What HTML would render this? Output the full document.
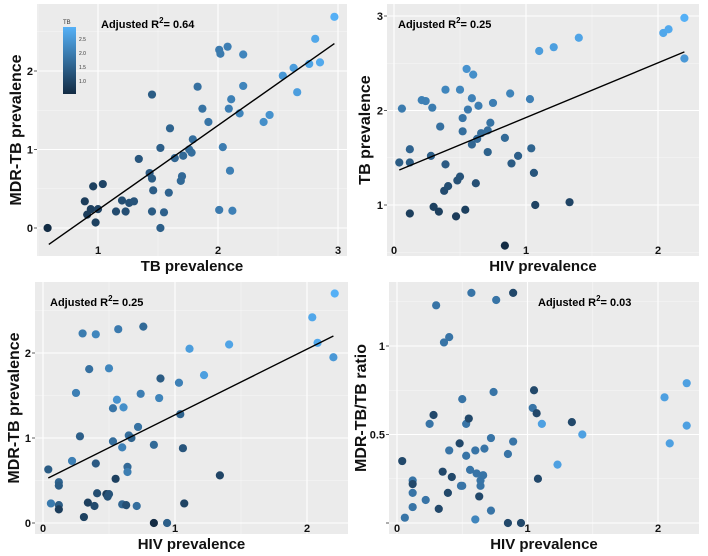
<!DOCTYPE html>
<html><head><meta charset="utf-8">
<style>
html,body{margin:0;padding:0;background:#fff;}
svg{display:block;font-family:"Liberation Sans",Arial,sans-serif;}
</style></head>
<body>
<svg id="chart" width="708" height="556" viewBox="0 0 708 556" xmlns="http://www.w3.org/2000/svg"></svg>
<script>
// Panel A: TB prevalence vs MDR-TB prevalence (colour = TB)
const aTB  = [0.58,0.89,0.96,0.94,0.91,0.98,1.0,1.04,1.15,1.2,1.23,1.26,1.3,1.34,1.43,1.45,1.45,1.45,1.46,1.52,1.52,1.55,1.59,1.6,1.64,1.69,1.7,1.71,1.76,1.78,1.79,1.83,1.87,1.92,2.01,2.01,2.02,2.04,2.08,2.09,2.1,2.11,2.12,2.18,2.21,2.21,2.38,2.43,2.54,2.63,2.66,2.76,2.81,2.85,2.97];
const aMDR = [0,0.34,0.53,0.24,0.17,0.07,0.24,0.56,0.21,0.35,0.21,0.32,0.34,0.88,0.7,0.63,0.21,1.7,0.48,1.02,0,0.2,0.45,1.27,0.89,0.6,0.66,0.92,1.0,0.96,1.13,1.8,1.52,1.35,0.23,2.27,2.22,1.03,2.31,1.52,0.73,1.64,0.22,1.46,2.21,1.81,1.35,1.44,1.94,2.04,1.73,2.09,2.41,2.11,2.69];
const aLine = [0.59,-0.21,2.97,2.35];
// Panel B: HIV prevalence vs TB prevalence
const bHIV = [0.06,0.04,0.12,0.12,0.12,0.21,0.24,0.28,0.29,0.3,0.34,0.35,0.38,0.39,0.39,0.41,0.47,0.48,0.5,0.5,0.52,0.52,0.54,0.55,0.56,0.59,0.59,0.6,0.62,0.63,0.64,0.66,0.71,0.71,0.73,0.75,0.84,0.84,0.88,0.89,0.94,1.03,1.04,1.06,1.07,1.1,1.21,1.33,1.4,2.04,2.08,2.2,2.2];
const bTB  = [2.02,1.45,1.59,1.45,0.91,2.11,2.1,1.52,2.03,0.98,0.93,1.83,1.15,1.43,2.22,1.2,0.88,1.26,1.3,2.22,1.92,1.78,0.95,2.44,2.01,2.13,1.64,2.38,1.23,1.7,2.05,1.76,1.56,1.79,1.87,2.08,1.71,0.57,2.18,1.44,1.52,2.12,1.6,1.34,1.0,2.63,2.67,1.03,2.77,2.82,2.86,2.55,2.98];
const bLine = [0.04,1.37,2.2,2.62];
// Panel C: HIV prevalence vs MDR-TB prevalence
const cHIV = [0.04,0.06,0.12,0.12,0.12,0.12,0.22,0.25,0.28,0.3,0.31,0.34,0.35,0.39,0.4,0.4,0.41,0.48,0.49,0.5,0.5,0.53,0.53,0.55,0.56,0.57,0.6,0.6,0.61,0.63,0.64,0.64,0.65,0.67,0.71,0.72,0.74,0.76,0.84,0.84,0.88,0.89,0.94,1.03,1.04,1.06,1.07,1.11,1.22,1.34,1.41,2.04,2.08,2.2,2.21];
const cMDR = [0.63,0.23,0.48,0.44,0.21,0.16,0.73,1.53,1.02,2.23,0.07,0.24,1.81,0.2,0.7,2.22,0.35,0.34,0.31,0.34,1.82,1.35,0.96,0.52,1.45,2.28,0.89,0.22,1.36,0.21,0.66,0.6,1.03,1.0,0.2,1.13,1.52,2.31,0.92,0,1.47,1.7,0,1.65,1.28,0.88,0.23,2.05,1.74,0.56,2.1,2.42,2.12,1.95,2.7];
const cTB  = [1.45,2.0,1.6,1.45,1.45,0.9,2.1,2.1,1.52,2.03,0.98,0.93,1.83,1.15,1.43,2.22,1.2,0.88,1.26,1.3,2.22,1.92,1.78,0.95,2.44,2.01,2.13,1.64,2.38,1.23,1.7,2.05,1.76,1.56,1.79,1.87,2.08,1.71,1.71,0.57,2.18,1.44,1.52,2.12,1.6,1.34,1.0,2.63,2.67,1.03,2.77,2.82,2.86,2.55,2.98];
const cLine = [0.04,0.53,2.2,2.2];
// Panel D: HIV prevalence vs MDR-TB/TB ratio
const dHIV = [0.04,0.06,0.12,0.12,0.12,0.12,0.22,0.25,0.28,0.3,0.32,0.35,0.36,0.39,0.4,0.4,0.42,0.48,0.49,0.5,0.5,0.53,0.53,0.55,0.56,0.57,0.6,0.6,0.61,0.63,0.64,0.64,0.66,0.67,0.72,0.72,0.74,0.76,0.85,0.85,0.89,0.89,0.95,1.04,1.05,1.07,1.08,1.11,1.23,1.34,1.42,2.05,2.09,2.22,2.22];
const dRatio = [0.35,0.03,0.24,0.22,0.17,0.09,0.13,0.56,0.61,1.23,0.08,0.29,1.02,0.17,0.41,1.05,0.26,0.45,0.21,0.21,0.7,0.38,0.56,0.59,0.3,1.3,0.41,0.02,0.28,0.15,0.24,0.21,0.27,0.42,0.07,0.48,0.74,1.26,0.39,0,0.46,1.3,0,0.65,0.75,0.62,0.25,0.56,0.33,0.57,0.5,0.71,0.45,0.55,0.79];
const dTB  = [1.1,1.9,1.9,1.1,1.9,1.9,1.9,1.9,1.1,1.9,1.1,1.1,1.9,1.1,1.9,1.9,1.1,1.1,1.9,1.9,1.9,1.9,1.9,1.1,1.9,1.9,1.9,2.2,1.9,1.1,1.9,1.9,1.9,1.9,1.9,1.9,1.9,1.9,1.9,1.1,1.9,1.1,1.1,1.9,1.1,1.1,1.1,2.7,2.7,1.1,2.7,2.7,2.7,2.7,2.7];

const xTicksA=[1,2,3], yTicksA=[0,1,2];
const xTicksB=[0,1,2], yTicksB=[1,2,3];
const xTicksC=[0,1,2], yTicksC=[0,1,2];
const xTicksD=[0,1,2], yTicksD=[0,0.5,1];
const yTickLabelsD=["","0.5","1"];

const NS="http://www.w3.org/2000/svg";
const svg=document.getElementById('chart');
function mk(tag,attrs,parent){const e=document.createElementNS(NS,tag);for(const k in attrs)e.setAttribute(k,attrs[k]);(parent||svg).appendChild(e);return e;}
function lin(v1,p1,v2,p2){return v=>p1+(v-v1)*(p2-p1)/(v2-v1);}
function colorFor(t){const lo=0.57,hi=3.0;let f=Math.max(0,Math.min(1,(t-lo)/(hi-lo)));
 const a=[19,43,67],b=[86,177,247];return 'rgb('+a.map((c,i)=>Math.round(c+(b[i]-c)*f)).join(',')+')';}

function panel(cfg){
 const g=mk('g',{});
 
 
 const bg=mk('rect',{x:cfg.L,y:cfg.T,width:cfg.R-cfg.L,height:cfg.B-cfg.T,fill:'#ebebeb'},g);
 
 
 const X=cfg.sx,Y=cfg.sy;
 const xs=cfg.xt, ys=cfg.yt;
 const xstep=xs[1]-xs[0], ystep=ys[1]-ys[0];
 for(let v=xs[0]-xstep/2; v<=xs[xs.length-1]+xstep; v+=xstep){const p=X(v); if(p>cfg.L&&p<cfg.R){const l=mk('line',{x1:p,x2:p,y1:cfg.T,y2:cfg.B,stroke:'#f7f7f7','stroke-width':0.6},g);}}
 for(let v=ys[0]-ystep/2; v<=ys[ys.length-1]+ystep; v+=ystep){const p=Y(v); if(p>cfg.T&&p<cfg.B){const l=mk('line',{x1:cfg.L,x2:cfg.R,y1:p,y2:p,stroke:'#f7f7f7','stroke-width':0.6},g);}}
 xs.forEach(v=>{const p=X(v);
  const l=mk('line',{x1:p,x2:p,y1:cfg.T,y2:cfg.B,stroke:'#fff','stroke-width':1.1},g);
  
  
  const t=mk('text',{x:p,y:cfg.xLabY,'text-anchor':'middle','font-size':11,'font-weight':'bold',fill:'#111'},g);
  t.textContent=String(v);
  
  
 });
 ys.forEach((v,i)=>{const p=Y(v);
  const l=mk('line',{x1:cfg.L,x2:cfg.R,y1:p,y2:p,stroke:'#fff','stroke-width':1.1},g);
  
  
  const tk=mk('line',{x1:cfg.L-3,x2:cfg.L,y1:p,y2:p,stroke:'#333','stroke-width':0.8},g);
  
  
  const t=mk('text',{x:cfg.L-4,y:p+4,'text-anchor':'end','font-size':11,'font-weight':'bold',fill:'#111'},g);
  t.textContent=cfg.ylabels?cfg.ylabels[i]:String(v);
  
  
 });
 for(let i=0;i<cfg.xd.length;i++){
  const c=mk('circle',{cx:X(cfg.xd[i]),cy:Y(cfg.yd[i]),r:4.1,fill:colorFor(cfg.cd[i])},g);
  
  
 }
 if(cfg.line){const ln=cfg.line;
  const l=mk('line',{x1:X(ln[0]),y1:Y(ln[1]),x2:X(ln[2]),y2:Y(ln[3]),stroke:'#000','stroke-width':1.4},g);
  
  
 }
 const r=mk('text',{x:cfg.rx,y:cfg.ry,'font-size':11,'font-weight':'bold',fill:'#000'},g);
 r.innerHTML='Adjusted R<tspan dy="-5" font-size="8">2</tspan><tspan dy="5">= '+cfg.r2+'</tspan>';
 
 
 const xt=mk('text',{x:(cfg.L+cfg.R)/2,y:cfg.B+15,'text-anchor':'middle','font-size':15,'font-weight':'bold',fill:'#111'},g);
 xt.textContent=cfg.xtitle;
 
 
 const cy=(cfg.T+cfg.B)/2;
 const yt=mk('text',{x:cfg.ytx,y:cy,'text-anchor':'middle','font-size':16,'font-weight':'bold',fill:'#111',transform:'rotate(-90 '+cfg.ytx+' '+cy+')'},g);
 yt.textContent=cfg.ytitle;
 
 
 return g;
}

panel({name:'panel-tb-vs-mdr',L:37,R:347,T:4,B:256,sx:lin(1,98,2,218),sy:lin(0,228,1,149.5),xt:xTicksA,yt:yTicksA,xd:aTB,yd:aMDR,cd:aTB,line:aLine,r2:'0.64',rx:101,ry:28,xtitle:'TB prevalence',ytitle:'MDR-TB prevalence',ytx:21,xLabY:254});
panel({name:'panel-hiv-vs-tb',L:387,R:699,T:4,B:256,sx:lin(0,394,1,526),sy:lin(1,205,2,110.5),xt:xTicksB,yt:yTicksB,xd:bHIV,yd:bTB,cd:bTB,line:bLine,r2:'0.25',rx:398,ry:28,xtitle:'HIV prevalence',ytitle:'TB prevalence',ytx:370,xLabY:254});
panel({name:'panel-hiv-vs-mdr',L:35,R:348,T:282,B:534,sx:lin(0,43,1,175),sy:lin(0,523,1,438),xt:xTicksC,yt:yTicksC,xd:cHIV,yd:cMDR,cd:cTB,line:cLine,r2:'0.25',rx:50,ry:306,xtitle:'HIV prevalence',ytitle:'MDR-TB prevalence',ytx:19,xLabY:532});
panel({name:'panel-hiv-vs-ratio',L:389,R:699,T:282,B:534,sx:lin(0,397,1,527.5),sy:lin(0,523,1,346),xt:xTicksD,yt:yTicksD,ylabels:yTickLabelsD,xd:dHIV,yd:dRatio,cd:dTB,line:null,r2:'0.03',rx:538,ry:306,xtitle:'HIV prevalence',ytitle:'MDR-TB/TB ratio',ytx:366,xLabY:532});

const leg=mk('g',{});


const defs=mk('defs',{},leg);
const grad=mk('linearGradient',{id:'tbgrad',x1:0,y1:1,x2:0,y2:0},defs);
mk('stop',{offset:'0%','stop-color':'#132B43'},grad);
mk('stop',{offset:'100%','stop-color':'#56B1F7'},grad);
const bar=mk('rect',{x:63,y:27,width:13,height:67,fill:'url(#tbgrad)'},leg);


const lt=mk('text',{x:63,y:24,'font-size':6,fill:'#333'},leg);
lt.textContent='TB';


const legVals=['2.5','2.0','1.5','1.0'];
const legY=[41,55,69,83];
for(let i=0;i<legVals.length;i++){
 const t=mk('text',{x:79,y:legY[i],'font-size':5,fill:'#333'},leg);
 t.textContent=legVals[i];
 
 
}
</script>
</body></html>
